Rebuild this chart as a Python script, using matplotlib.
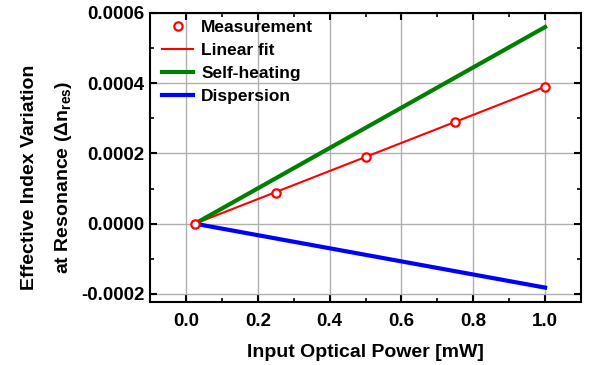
import matplotlib
matplotlib.use("Agg")
import matplotlib.pyplot as plt
from matplotlib.ticker import MultipleLocator, FormatStrFormatter

plt.rcParams['font.family'] = ['Liberation Sans', 'DejaVu Sans']
plt.rcParams['font.weight'] = 'bold'
plt.rcParams['mathtext.fontset'] = 'custom'
plt.rcParams['mathtext.rm'] = 'Liberation Sans:bold'
plt.rcParams['mathtext.it'] = 'Liberation Sans:bold'
plt.rcParams['mathtext.bf'] = 'Liberation Sans:bold'

# measured points
power = [0.025, 0.25, 0.5, 0.75, 1.0]
dn_meas = [0.0, 0.000088, 0.00019, 0.00029, 0.00039]

# model lines (end points)
line_x = [0.025, 1.0]
fit_y = [0.0, 0.00039]
heat_y = [0.0, 0.00056]
disp_y = [0.0, -0.000182]

fig = plt.figure(figsize=(5.92, 3.65), dpi=100)
ax = fig.add_axes([0.2534, 0.1726, 0.728, 0.7918])

ax.plot(line_x, fit_y, color='red', lw=1.5, label='Linear fit', zorder=3)
ax.plot(line_x, heat_y, color='green', lw=3, label='Self-heating', zorder=3)
ax.plot(line_x, disp_y, color='blue', lw=3, label='Dispersion', zorder=3)
ax.plot(power, dn_meas, 'o', mfc='white', mec='red', mew=1.6, ms=6,
        label='Measurement', zorder=4)

ax.set_xlim(-0.1, 1.1)
ax.set_ylim(-0.000223, 0.0006)
ax.xaxis.set_major_locator(MultipleLocator(0.2))
ax.xaxis.set_minor_locator(MultipleLocator(0.1))
ax.yaxis.set_major_locator(MultipleLocator(0.0002))
ax.yaxis.set_minor_locator(MultipleLocator(0.0001))
ax.xaxis.set_major_formatter(FormatStrFormatter('%.1f'))
ax.yaxis.set_major_formatter(FormatStrFormatter('%.4f'))
ax.grid(True, which='major', color='#b0b0b0', lw=1)
ax.set_axisbelow(True)
ax.tick_params(which='both', direction='in', top=True, right=True, labelsize=13.5)
ax.tick_params(axis='x', pad=8)
ax.tick_params(axis='y', pad=4)
ax.tick_params(which='major', length=5, width=1.5)
ax.tick_params(which='minor', length=3, width=1.2)
for s in ax.spines.values():
    s.set_linewidth(1.5)

ax.set_xlabel('Input Optical Power [mW]', fontsize=14, fontweight='bold', labelpad=10)
ax.set_ylabel('Effective Index Variation\nat Resonance (Δn$_{\\mathregular{res}}$)',
              fontsize=14, fontweight='bold', linespacing=2.0)
ax.yaxis.set_label_coords(-0.176, 0.43)

h, l = ax.get_legend_handles_labels()
order = [3, 0, 1, 2]
ax.legend([h[i] for i in order], [l[i] for i in order], loc='upper left',
          frameon=False, fontsize=12.5, handlelength=1.8, borderaxespad=0.0,
          labelspacing=0.45, handletextpad=0.45, bbox_to_anchor=(0.012, 1.0))

fig.savefig('out.png', dpi=100)
